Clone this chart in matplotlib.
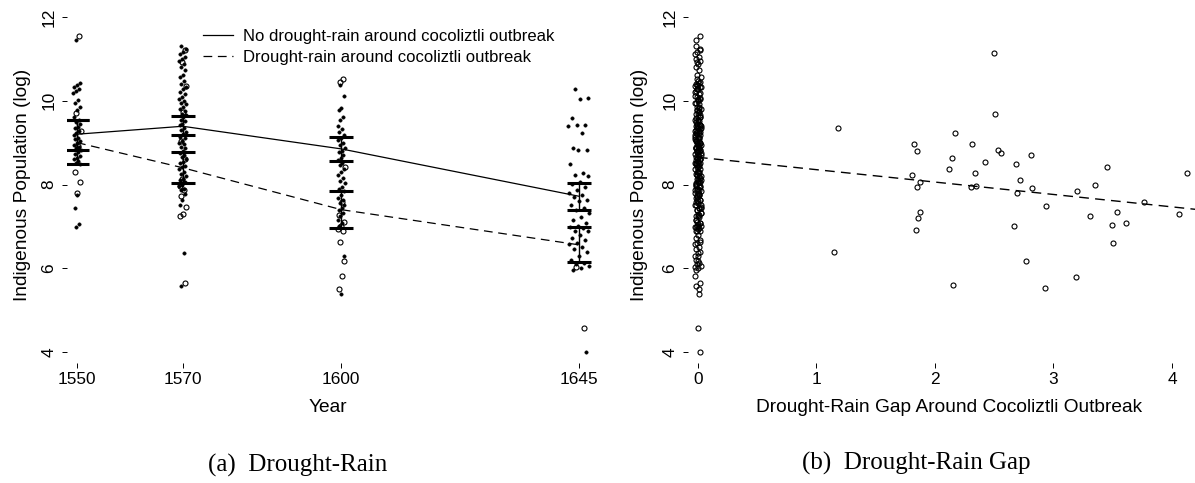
import numpy as np
import matplotlib
matplotlib.use("Agg")
import matplotlib.pyplot as plt
from matplotlib.lines import Line2D

plt.rcParams['font.family'] = ['Liberation Sans', 'DejaVu Sans']

# ---------------- data: panel (a) ----------------
years = [1550, 1570, 1600, 1645]
year_labels = ['1550', '1570', '1600', '1645']

dot_1550 = [11.45, 10.42, 10.37, 10.33, 10.27, 10.24, 10.19, 10.02, 9.94, 9.86, 9.78,
            9.61, 9.55, 9.49, 9.44, 9.38, 9.34, 9.27, 9.22, 9.18, 9.12, 9.08, 9.03, 8.99,
            8.94, 8.9, 8.86, 8.82, 8.77, 8.73, 8.69, 8.64, 8.6, 8.56, 8.52, 8.48, 7.75,
            7.43, 7.05, 6.98]
circ_1550 = [11.55, 9.7, 9.28, 8.92, 8.31, 8.05, 7.79]

dot_1570 = [11.3, 11.24, 11.17, 11.12, 11.04, 11.0, 10.94, 10.87, 10.81, 10.74, 10.62,
            10.56, 10.47, 10.41, 10.33, 10.27, 10.21, 10.16, 10.09, 10.05, 9.99, 9.94,
            9.91, 9.84, 9.79, 9.76, 9.69, 9.66, 9.6, 9.55, 9.51, 9.45, 9.41, 9.36, 9.29,
            9.26, 9.2, 9.14, 9.11, 9.04, 9.0, 8.96, 8.89, 8.86, 8.8, 8.74, 8.71, 8.66,
            8.6, 8.54, 8.51, 8.44, 8.41, 8.36, 8.29, 8.26, 8.2, 8.14, 8.11, 8.05, 8.0,
            7.96, 7.89, 7.86, 7.78, 7.62, 7.52, 6.36, 5.58]
circ_1570 = [11.22, 10.92, 10.35, 9.72, 9.05, 8.62, 8.12, 7.96, 7.88, 7.72, 7.47, 7.3,
             7.25, 5.66]

dot_1600 = [10.38, 10.12, 9.83, 9.77, 9.62, 9.54, 9.4, 9.33, 9.25, 9.18, 9.12, 9.06,
            9.0, 8.94, 8.88, 8.81, 8.77, 8.7, 8.63, 8.58, 8.52, 8.46, 8.38, 8.3, 8.22,
            8.15, 8.08, 8.03, 7.95, 7.9, 7.84, 7.76, 7.68, 7.63, 7.55, 7.5, 7.43, 7.38,
            7.33, 7.24, 7.16, 7.08, 7.02, 6.3, 5.39]
circ_1600 = [10.52, 10.45, 8.42, 7.58, 7.28, 7.11, 7.0, 6.93, 6.88, 6.63, 6.18, 5.82, 5.5]

dot_1645 = [10.27, 10.06, 10.05, 9.58, 9.43, 9.42, 9.4, 9.22, 8.88, 8.83, 8.82, 8.5,
            8.28, 8.22, 8.2, 8.05, 8.02, 7.95, 7.87, 7.8, 7.75, 7.7, 7.64, 7.6, 7.52,
            7.45, 7.4, 7.32, 7.22, 7.15, 7.08, 7.0, 6.98, 6.95, 6.9, 6.88, 6.8, 6.72,
            6.68, 6.6, 6.57, 6.5, 6.45, 6.4, 6.3, 6.2, 6.13, 6.1, 6.05, 6.0, 5.95, 4.01]
circ_1645 = [4.57, 6.02]

# group means and confidence bounds
no_dr_mean = [9.2, 9.39, 8.85, 7.72]
no_dr_lo = [8.82, 9.17, 8.56, 7.39]
no_dr_hi = [9.55, 9.63, 9.14, 8.04]
dr_mean = [9.0, 8.4, 7.4, 6.56]
dr_lo = [8.48, 8.04, 6.97, 6.14]
dr_hi = [9.55, 8.78, 7.84, 6.98]

legend_labels = ['No drought-rain around cocoliztli outbreak',
                 'Drought-rain around cocoliztli outbreak']

# ---------------- data: panel (b) ----------------
gap_x = [1.18, 1.15, 1.82, 1.85, 1.81, 1.87, 1.85, 1.87, 1.86, 1.84, 2.17, 2.14, 2.12,
         2.15, 2.31, 2.34, 2.30, 2.35, 2.42, 2.50, 2.51, 2.53, 2.56, 2.68, 2.72, 2.69,
         2.67, 2.77, 2.81, 2.82, 2.94, 2.93, 3.19, 3.20, 3.35, 3.31, 3.45, 3.49, 3.54,
         3.50, 3.61, 3.76, 4.06, 4.13]
gap_y = [9.35, 6.38, 8.96, 8.80, 8.23, 8.07, 7.95, 7.34, 7.21, 6.91, 9.23, 8.63, 8.38,
         5.61, 8.97, 8.27, 7.94, 7.97, 8.53, 11.15, 9.69, 8.83, 8.75, 8.48, 8.11, 7.79,
         7.01, 6.17, 8.71, 7.92, 7.49, 5.52, 5.80, 7.84, 7.99, 7.24, 8.42, 7.03, 7.35,
         6.60, 7.07, 7.59, 7.30, 8.27]
fit_intercept = 8.65
fit_slope = -0.296

# ---------------- figure ----------------
W, H = 1195, 483
fig = plt.figure(figsize=(W / 100, H / 100), dpi=100)


def fx(px):
    return px / W


def fy(py):
    return 1 - py / H


ax1 = fig.add_axes([fx(67), fy(363), (600 - 67) / W, (363 - 6) / H])
ax2 = fig.add_axes([fx(688), fy(363), (W - 688) / W, (363 - 6) / H])


def jitter(n, half, phase=0.3):
    return ((np.arange(n) * 0.6180339887 + phase) % 1.0 * 2 - 1) * half


dots = [dot_1550, dot_1570, dot_1600, dot_1645]
circs = [circ_1550, circ_1570, circ_1600, circ_1645]
half_w = [0.7, 0.7, 0.7, 2.0]

for yr, d, c, hw in zip(years, dots, circs, half_w):
    ax1.plot(yr + jitter(len(d), hw), d, 'o', ms=2.4, mfc='black', mec='black',
             mew=0.4, ls='none', zorder=2)
    ax1.plot(yr + jitter(len(c), hw, 0.75), c, 'o', ms=3.6, mfc='none', mec='black',
             mew=0.8, ls='none', zorder=2)

ax1.plot(years, no_dr_mean, color='black', lw=0.9, zorder=3)
ax1.plot(years, dr_mean, color='black', lw=0.9, dashes=(7, 4.5), zorder=3)

for m, lo, hi in [(no_dr_mean, no_dr_lo, no_dr_hi), (dr_mean, dr_lo, dr_hi)]:
    m = np.array(m)
    ax1.errorbar(years, m, yerr=[m - np.array(lo), np.array(hi) - m], fmt='none',
                 ecolor='black', elinewidth=1.0, capsize=8.5, capthick=2.2, zorder=4)

ax1.set_xlim(1548.1, 1649)
ax1.set_ylim(3.74, 12.26)
ax1.set_xticks(years)
ax1.set_xticklabels(year_labels)

# panel (b)
all_vals = dot_1550 + circ_1550 + dot_1570 + circ_1570 + dot_1600 + circ_1600 + dot_1645 + circ_1645
zero_x = jitter(len(all_vals), 0.025, 0.1)
ax2.plot(zero_x, all_vals, 'o', ms=3.6, mfc='none', mec='black', mew=0.8, ls='none')
ax2.plot(gap_x, gap_y, 'o', ms=3.6, mfc='none', mec='black', mew=0.8, ls='none')
xl = np.array([0.0, 4.5])
ax2.plot(xl, fit_intercept + fit_slope * xl, color='black', lw=1.0, dashes=(7, 4.5))
ax2.set_xlim(-0.084, 4.194)
ax2.set_ylim(3.74, 12.26)
ax2.set_xticks([0, 1, 2, 3, 4])
ax2.set_xticklabels(['0', '1', '2', '3', '4'])

for ax in (ax1, ax2):
    for s in ax.spines.values():
        s.set_visible(False)
    ax.set_yticks([4, 6, 8, 10, 12])
    ax.set_yticklabels(['4', '6', '8', '10', '12'])
    ax.tick_params(axis='both', direction='out', length=3.6, width=0.7,
                   labelsize=12.4, color='black')
    ax.tick_params(axis='x', pad=3)
    ax.tick_params(axis='y', pad=4)
    for lab in ax.get_yticklabels():
        lab.set_rotation(90)
        lab.set_va('center')

# axis titles
fig.text(fx(23), fy(185), 'Indigenous Population (log)', rotation=90,
         ha='center', va='center', fontsize=13.8)
fig.text(fx(640), fy(185), 'Indigenous Population (log)', rotation=90,
         ha='center', va='center', fontsize=13.8)
fig.text(fx(328), fy(408), 'Year', ha='center', va='center', fontsize=13.8)
fig.text(fx(949), fy(408), 'Drought-Rain Gap Around Cocoliztli Outbreak',
         ha='center', va='center', fontsize=13.8)

# legend
handles = [Line2D([], [], color='black', lw=0.9),
           Line2D([], [], color='black', lw=0.9, dashes=(7, 4.5))]
fig.legend(handles, legend_labels, loc='upper left',
           bbox_to_anchor=(fx(203), fy(29)), frameon=False, fontsize=12,
           handlelength=1.8, handletextpad=0.6, labelspacing=0.35,
           borderpad=0, borderaxespad=0)

# captions
fig.text(fx(298), fy(465), '(a)  Drought-Rain', ha='center', va='center',
         fontsize=18, family='Liberation Serif')
fig.text(fx(916), fy(463), '(b)  Drought-Rain Gap', ha='center', va='center',
         fontsize=18, family='Liberation Serif')

fig.savefig('out.png', dpi=100)
